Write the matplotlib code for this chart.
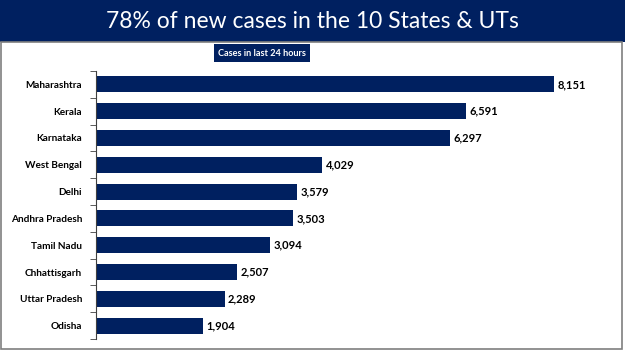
import matplotlib.pyplot as plt
from matplotlib.patches import Rectangle

plt.rcParams['font.family'] = ['Lato', 'DejaVu Sans']

states = ['Maharashtra', 'Kerala', 'Karnataka', 'West Bengal', 'Delhi',
          'Andhra Pradesh', 'Tamil Nadu', 'Chhattisgarh', 'Uttar Pradesh', 'Odisha']
cases = [8151, 6591, 6297, 4029, 3579, 3503, 3094, 2507, 2289, 1904]

navy = '#002060'
W, H = 625, 351

fig = plt.figure(figsize=(6.25, 3.51), dpi=100)

# title banner
fig.patches.append(Rectangle((0, 1 - 42 / H), 1, 42 / H, transform=fig.transFigure,
                             facecolor=navy, edgecolor='none', zorder=0))
fig.text(0.5, 1 - 21 / H, '78% of new cases in the 10 States & UTs', color='white',
         fontsize=16.5, ha='center', va='center')

# gray frame
fig.patches.append(Rectangle((1.5 / W, 2 / H), 620 / W, (349 - 42) / H, transform=fig.transFigure,
                             facecolor='none', edgecolor='#7f7f7f', linewidth=1.2, zorder=0))

# subtitle box
fig.text(262 / W, 1 - 53 / H, 'Cases in last 24 hours', color='white', fontsize=6.6,
         fontweight='bold', ha='center', va='center',
         bbox=dict(boxstyle='square,pad=0.45', facecolor=navy, edgecolor='none'))

ax = fig.add_axes([96 / W, 1 - 339 / H, (600 - 96) / W, (339 - 71) / H])
y = range(len(states))
ax.barh(y, cases, height=0.6, color=navy)
ax.set_ylim(len(states) - 0.5, -0.5)
ax.set_xlim(0, 8968)
ax.set_yticks(list(y))
ax.set_yticklabels(states, fontsize=7.2, fontweight='bold')
ax.tick_params(axis='y', length=0, pad=10)
ax.set_yticks([i - 0.5 for i in range(len(states) + 1)], minor=True)
ax.tick_params(axis='y', which='minor', length=4, color='#404040')
ax.set_xticks([])
for s in ['top', 'right', 'bottom']:
    ax.spines[s].set_visible(False)
ax.spines['left'].set_color('#404040')

for i, v in enumerate(cases):
    ax.text(v + 60, i, f'{v:,}', va='center', ha='left', fontsize=8, fontweight='bold')

fig.savefig('out.png', dpi=100)
